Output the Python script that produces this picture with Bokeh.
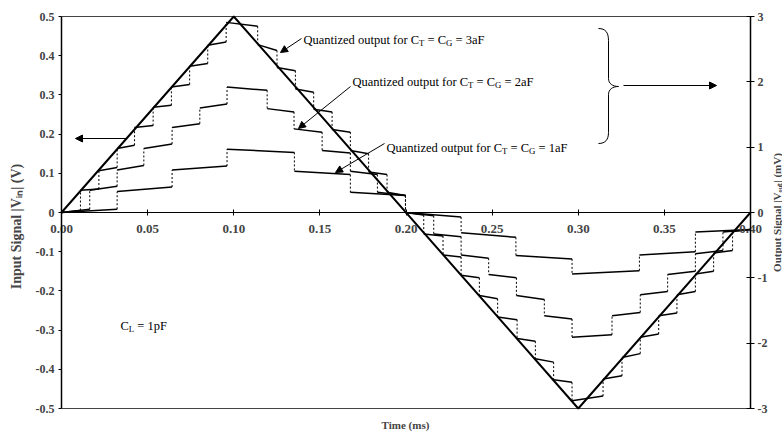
from math import pi
from bokeh.plotting import figure
from bokeh.models import Range1d, LinearAxis, FixedTicker, Label, Arrow, NormalHead
from bokeh.embed import file_html
from bokeh.resources import INLINE

# ---------------- data ----------------
# input triangle signal (left axis, V)
time_in = [0.0, 0.1, 0.3, 0.4]
v_in = [0.0, 0.5, -0.5, 0.0]

# quantized outputs (right axis, mV): step edges (ms), plateau start / end levels
t_3aF = [0.0, 0.0110, 0.0217, 0.0323, 0.0424, 0.0532, 0.0638, 0.0744, 0.0849, 0.0956,
         0.1139, 0.1251, 0.1358, 0.1464, 0.1571, 0.1677, 0.1783, 0.1890, 0.1997,
         0.2103, 0.2215, 0.2320, 0.2426, 0.2532, 0.2645, 0.2751, 0.2857, 0.2964,
         0.3144, 0.3254, 0.3360, 0.3467, 0.3573, 0.3680, 0.3786, 0.3896, 0.4000]
start_3aF = [0.00, 0.34, 0.64, 0.98, 1.30, 1.61, 1.92, 2.24, 2.56,
             2.91, 2.57, 2.22, 1.89, 1.58, 1.27, 0.95, 0.62, 0.31,
             0.00, -0.33, -0.65, -0.96, -1.27, -1.60, -1.93, -2.24, -2.56,
             -2.88, -2.55, -2.22, -1.91, -1.58, -1.26, -0.94, -0.62, -0.29]
end_3aF = [0.03, 0.36, 0.69, 1.03, 1.33, 1.64, 1.96, 2.28, 2.61,
           2.85, 2.48, 2.17, 1.84, 1.54, 1.23, 0.90, 0.58, 0.26,
           -0.04, -0.36, -0.68, -1.00, -1.32, -1.64, -1.97, -2.29, -2.60,
           -2.81, -2.50, -2.16, -1.86, -1.54, -1.21, -0.90, -0.58, -0.26]

t_2aF = [0.0, 0.0164, 0.0323, 0.0478, 0.0642, 0.0803, 0.0961, 0.1194, 0.1350, 0.1513,
         0.1677, 0.1834, 0.1997, 0.2161, 0.2320, 0.2480, 0.2641, 0.2803, 0.2964,
         0.3196, 0.3360, 0.3519, 0.3680, 0.3840, 0.4000]
start_2aF = [0.00, 0.34, 0.65, 0.98, 1.30, 1.60, 1.92, 1.59, 1.28, 0.95, 0.63, 0.31,
             0.00, -0.33, -0.65, -0.95, -1.27, -1.58, -1.91, -1.58, -1.26, -0.95, -0.63, -0.30]
end_2aF = [0.05, 0.40, 0.72, 1.05, 1.36, 1.66, 1.87, 1.54, 1.23, 0.91, 0.58, 0.26,
           -0.05, -0.37, -0.70, -1.00, -1.33, -1.63, -1.87, -1.53, -1.21, -0.90, -0.58, -0.26]

t_1aF = [0.0, 0.0323, 0.0642, 0.0961, 0.1352, 0.1677, 0.1997, 0.2320, 0.2638, 0.2964,
         0.3355, 0.3680, 0.4000]
start_1aF = [0.00, 0.32, 0.65, 0.97, 0.63, 0.31, 0.00, -0.31, -0.66, -0.94, -0.65, -0.30]
end_1aF = [0.05, 0.39, 0.71, 0.92, 0.58, 0.26, -0.07, -0.38, -0.71, -0.89, -0.60, -0.26]

left_ticks = [-0.5, -0.4, -0.3, -0.2, -0.1, 0.0, 0.1, 0.2, 0.3, 0.4, 0.5]
left_labels = ["-0.5", "-0.4", "-0.3", "-0.2", "-0.1", "0", "0.1", "0.2", "0.3", "0.4", "0.5"]
right_ticks = [-3, -2, -1, 0, 1, 2, 3]
right_labels = ["-3", "-2", "-1", "0", "1", "2", "3"]
x_ticks = [0.0, 0.05, 0.1, 0.15, 0.2, 0.25, 0.3, 0.35, 0.4]
x_labels = ["0.00", "0.05", "0.10", "0.15", "0.20", "0.25", "0.30", "0.35", "0.40"]

# axis limits
X_MIN, X_MAX = 0.0, 0.4
Y_MIN, Y_MAX = -0.5, 0.5
MV_MIN, MV_MAX = -3.0, 3.0

FONT = "Liberation Serif"

# ---------------- layout: the frame covers the whole canvas ----------------
W_PX, H_PX = 782, 436
LEFT_PX, RIGHT_PX, TOP_PX, BOTTOM_PX = 61, 750, 16, 408   # where the axes sit
sx = (X_MAX - X_MIN) / (RIGHT_PX - LEFT_PX)
sy = (Y_MAX - Y_MIN) / (BOTTOM_PX - TOP_PX)
x_lo, x_hi = X_MIN - LEFT_PX * sx, X_MAX + (W_PX - RIGHT_PX) * sx
y_lo, y_hi = Y_MIN - (H_PX - BOTTOM_PX) * sy, Y_MAX + TOP_PX * sy
mv_k = (MV_MAX - MV_MIN) / (Y_MAX - Y_MIN)


def px(x, y):
    """pixel position of an annotation -> data coordinates"""
    return X_MIN + (x - LEFT_PX) * sx, Y_MAX - (y - TOP_PX) * sy


p = figure(width=W_PX, height=H_PX, x_range=Range1d(x_lo, x_hi), y_range=Range1d(y_lo, y_hi),
           output_backend="svg", toolbar_location=None,
           min_border_left=0, min_border_right=0, min_border_top=0, min_border_bottom=0)
p.title.visible = False
p.extra_y_ranges = {"mv": Range1d(y_lo * mv_k, y_hi * mv_k)}
p.grid.visible = False
p.background_fill_color = "white"
p.border_fill_color = "white"
p.outline_line_color = None

xa = p.xaxis[0]
xa.fixed_location = 0
xa.bounds = (X_MIN, X_MAX)
xa.ticker = FixedTicker(ticks=x_ticks)
xa.major_label_overrides = dict(zip(x_ticks, x_labels))
xa.minor_tick_line_color = None
xa.major_tick_in = 3
xa.major_tick_out = 3
xa.major_label_standoff = 9
xa.major_label_text_font = FONT
xa.major_label_text_font_size = "13px"
xa.major_label_text_font_style = "bold"
xa.axis_line_color = "black"

ya = p.yaxis[0]
ya.fixed_location = X_MIN
ya.bounds = (Y_MIN, Y_MAX)
ya.ticker = FixedTicker(ticks=left_ticks)
ya.major_label_overrides = dict(zip(left_ticks, left_labels))
ya.minor_tick_line_color = None
ya.major_tick_in = 0
ya.major_tick_out = 3
ya.major_label_standoff = 4
ya.major_label_text_font = FONT
ya.major_label_text_font_size = "12px"
ya.major_label_text_font_style = "bold"
ya.axis_line_width = 1.5

ra = LinearAxis(y_range_name="mv", ticker=FixedTicker(ticks=right_ticks),
                fixed_location=X_MAX, bounds=(MV_MIN, MV_MAX))
ra.major_label_overrides = dict(zip(right_ticks, right_labels))
ra.minor_tick_line_color = None
ra.major_tick_in = 4
ra.major_tick_out = 4
ra.major_label_standoff = 3
ra.major_label_text_font = FONT
ra.major_label_text_font_size = "12px"
ra.major_label_text_font_style = "bold"
ra.axis_line_width = 1.5
p.add_layout(ra, "right")

# top and bottom border of the plot area
p.segment(x0=[X_MIN, X_MIN], y0=[Y_MAX, Y_MIN], x1=[X_MAX, X_MAX], y1=[Y_MAX, Y_MIN],
          line_color="#444444", line_width=1)


# ---------------- staircases ----------------
def stair(edges, starts, ends):
    xs, ys, vx, vy0, vy1 = [], [], [], [], []
    for i in range(len(starts)):
        xs.append([edges[i], edges[i + 1]])
        ys.append([starts[i], ends[i]])
        if i > 0:
            vx.append(edges[i])
            vy0.append(ends[i - 1])
            vy1.append(starts[i])
    p.segment(x0=vx, y0=vy0, x1=vx, y1=vy1, y_range_name="mv",
              line_color="black", line_width=1, line_dash="2 2")
    p.multi_line(xs=xs, ys=ys, y_range_name="mv", line_color="black", line_width=1.5)


stair(t_1aF, start_1aF, end_1aF)
stair(t_2aF, start_2aF, end_2aF)
stair(t_3aF, start_3aF, end_3aF)

p.line(time_in, v_in, line_color="black", line_width=2)

# ---------------- annotations ----------------
W = {' ': 250, 'Q': 722, 'u': 500, 'a': 444, 'n': 500, 't': 278, 'i': 278, 'z': 444,
     'e': 444, 'd': 500, 'o': 500, 'p': 500, 'f': 333, 'r': 333, 'C': 667, 'T': 611,
     '=': 564, 'G': 722, '3': 500, '2': 500, '1': 500, 'F': 556, 'L': 611, 'l': 278}


def rich(xp, yp, parts, size):
    x, y = px(xp, yp)
    off = 0.0
    for txt, sub in parts:
        fs = size * 0.7 if sub else size
        lead = len(txt) - len(txt.lstrip(' '))
        off += lead * W[' '] * fs / 1000
        core = txt.strip(' ')
        p.add_layout(Label(x=x, y=y, x_offset=off, y_offset=(-3 if sub else 0), text=core,
                           text_font=FONT, text_font_size=f"{fs:.1f}px",
                           text_baseline="middle", text_align="left", text_color="black"))
        off += sum(W.get(c, 500) for c in core) * fs / 1000
        trail = len(txt) - len(txt.rstrip(' '))
        off += trail * W[' '] * fs / 1000


def quant(xp, yp, cap):
    rich(xp, yp, [("Quantized output for C", False), ("T", True), (" = C", False),
                  ("G", True), (" = " + cap, False)], 12.5)


quant(303, 39, "3aF")
quant(352, 81, "2aF")
quant(386, 147, "1aF")
rich(120, 325, [("C", False), ("L", True), (" = 1pF", False)], 12.5)


def arrow(x0, y0, x1, y1):
    xs_, ys_ = px(x0, y0)
    xe_, ye_ = px(x1, y1)
    p.add_layout(Arrow(end=NormalHead(size=7, fill_color="black", line_color="black"),
                       x_start=xs_, y_start=ys_, x_end=xe_, y_end=ye_,
                       line_color="black", line_width=1))


arrow(301, 38, 280, 52)
arrow(350, 86, 298, 128)
arrow(384, 143, 335, 172)
arrow(126, 138, 75, 138)
arrow(623, 85, 716, 85)

# curly brace (pixel outline converted to data units)
brace_curves = [((598, 28), (605, 28), (608, 32), (608, 40)),
                ((608, 78), (608, 83), (612, 86), (618, 86)),
                ((618, 86), (612, 86), (608, 89), (608, 94)),
                ((608, 132), (608, 139), (605, 143), (598, 143))]
bz = {k: [] for k in ("x0", "y0", "cx0", "cy0", "cx1", "cy1", "x1", "y1")}
for a, c0, c1, b in brace_curves:
    for key, pt in (("0", a), ("c0", c0), ("c1", c1), ("1", b)):
        dx, dy = px(*pt)
        kx = "x" + key if key in ("0", "1") else "cx" + key[1]
        ky = "y" + key if key in ("0", "1") else "cy" + key[1]
        bz[kx].append(dx)
        bz[ky].append(dy)
p.bezier(**bz, line_color="black", line_width=1)
s0, s1 = px(608, 40), px(608, 78)
s2, s3 = px(608, 94), px(608, 132)
p.segment(x0=[s0[0], s2[0]], y0=[s0[1], s2[1]], x1=[s1[0], s3[0]], y1=[s1[1], s3[1]],
          line_color="black", line_width=1)

# axis titles
tx, ty = px(405, 424)
p.add_layout(Label(x=tx, y=ty, text="Time (ms)", text_font=FONT, text_font_size="11px",
                   text_font_style="bold", text_align="center", text_baseline="middle"))
lx, ly = px(16, 226)
p.add_layout(Label(x=lx, y=ly, angle=pi / 2, text="Input Signal |V\u1d62\u2099| (V)",
                   text_font=FONT, text_font_size="14px", text_font_style="bold",
                   text_align="center", text_baseline="middle"))
rx, ry = px(776, 212)
p.add_layout(Label(x=rx, y=ry, angle=pi / 2, text="Output Signal |V\u2092\u1d64\u209c| (mV)",
                   text_font=FONT, text_font_size="11px", text_font_style="bold",
                   text_align="center", text_baseline="middle"))

open("out.html", "w").write(file_html(p, INLINE))
